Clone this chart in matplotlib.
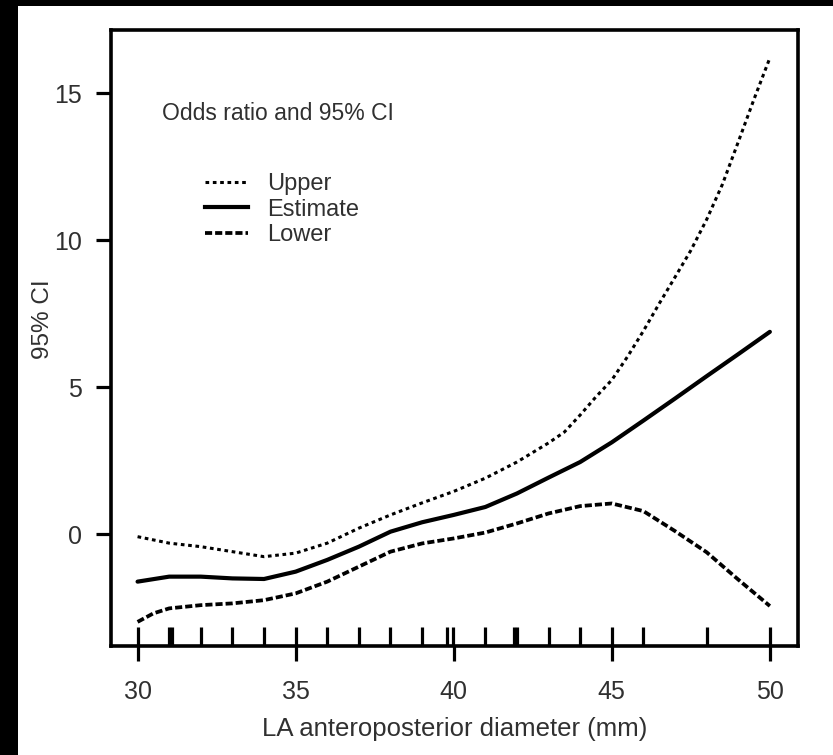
import numpy as np
import matplotlib
matplotlib.use("Agg")
import matplotlib.pyplot as plt
from matplotlib.patches import Rectangle
from matplotlib.lines import Line2D

plt.rcParams['font.family'] = ['Liberation Sans', 'DejaVu Sans']

# values
x_est = [30, 31, 32, 33, 34, 35, 36, 37, 38, 39, 40, 41, 42, 43, 44, 45, 46, 47, 48, 49, 50]
estimate = [-1.62, -1.45, -1.45, -1.51, -1.53, -1.28, -0.88, -0.43, 0.08, 0.40, 0.65,
            0.92, 1.38, 1.92, 2.45, 3.12, 3.86, 4.61, 5.37, 6.12, 6.88]

x_upper = [30, 31, 32, 33, 34, 35, 36, 37, 38, 39, 40, 41, 42, 43, 43.5, 44, 44.5, 45,
           45.5, 46, 46.5, 47, 47.5, 48, 48.5, 49, 49.5, 50]
upper = [-0.09, -0.31, -0.43, -0.60, -0.77, -0.65, -0.31, 0.20, 0.65, 1.06, 1.45, 1.90,
         2.45, 3.10, 3.47, 4.05, 4.67, 5.24, 6.04, 6.91, 7.84, 8.74, 9.65, 10.70, 11.90,
         13.34, 14.80, 16.20]

x_lower = [30, 30.5, 31, 32, 33, 34, 35, 36, 37, 38, 39, 40, 41, 42, 43, 44, 45, 46, 47,
           48, 49, 50]
lower = [-2.99, -2.70, -2.53, -2.42, -2.36, -2.25, -2.02, -1.62, -1.11, -0.60, -0.32,
         -0.15, 0.05, 0.36, 0.70, 0.95, 1.04, 0.78, 0.10, -0.62, -1.55, -2.45]

rug_x = [30, 31, 31.1, 32, 33, 34, 35, 36, 37, 38, 39, 39.78, 39.97, 41, 41.9, 42,
         43, 44, 45, 46, 48, 50]

x_ticks = [30, 35, 40, 45, 50]
y_ticks = [0, 5, 10, 15]

W, H = 833, 755
TXT = '#303030'
fig = plt.figure(figsize=(W / 100, H / 100), dpi=100, facecolor='black')
fig.add_artist(Rectangle((18 / W, 0), 1 - 18 / W, 1 - 6 / H, transform=fig.transFigure,
                         facecolor='white', edgecolor='none', zorder=-10))

ax = fig.add_axes([110.7 / W, (H - 646) / H, (798 - 110.7) / W, (646 - 30) / H])
ax.set_facecolor('white')

up_style = dict(color='black', lw=2.2, linestyle=(0, (1.2, 1.2)))
est_style = dict(color='black', lw=3.0)
low_style = dict(color='black', lw=2.7, linestyle=(0, (1.9, 0.8)))

ax.plot(x_upper, upper, **up_style)
ax.plot(x_est, estimate, solid_capstyle='round', **est_style)
ax.plot(x_lower, lower, **low_style)

ax.vlines(rug_x, 0, 0.031, transform=ax.get_xaxis_transform(), color='black', lw=2.3)

ax.set_xlim(29.15, 50.89)
ax.set_ylim(-3.81, 17.15)
ax.set_xticks(x_ticks)
ax.set_yticks(y_ticks)

for s in ax.spines.values():
    s.set_linewidth(2.6)
ax.tick_params(direction='out', length=10.8, width=2.3, labelsize=18, colors='black')
ax.tick_params(axis='x', pad=14, labelcolor=TXT)
ax.tick_params(axis='y', pad=10, labelcolor=TXT)

ax.set_xlabel('LA anteroposterior diameter (mm)', fontsize=18.5, color=TXT)
ax.xaxis.set_label_coords(0.5, -0.116)
ax.set_ylabel('95% CI', fontsize=17.5, color=TXT)
ax.yaxis.set_label_coords(-0.083, 0.53)

fig.text(162 / W, 1 - 113 / H, 'Odds ratio and 95% CI', fontsize=16.5, color=TXT,
         ha='left', va='center')

handles = [Line2D([], [], **up_style), Line2D([], [], **est_style),
           Line2D([], [], **low_style)]
leg = ax.legend(handles, ['Upper', 'Estimate', 'Lower'], loc='upper left',
                bbox_to_anchor=(205 / W, 1 - 173 / H), bbox_transform=fig.transFigure,
                frameon=False, fontsize=17, handlelength=1.8, handletextpad=0.85,
                labelspacing=0.15, borderpad=0, borderaxespad=0)
for t in leg.get_texts():
    t.set_color(TXT)

fig.savefig('out.png', dpi=100, facecolor=fig.get_facecolor())
